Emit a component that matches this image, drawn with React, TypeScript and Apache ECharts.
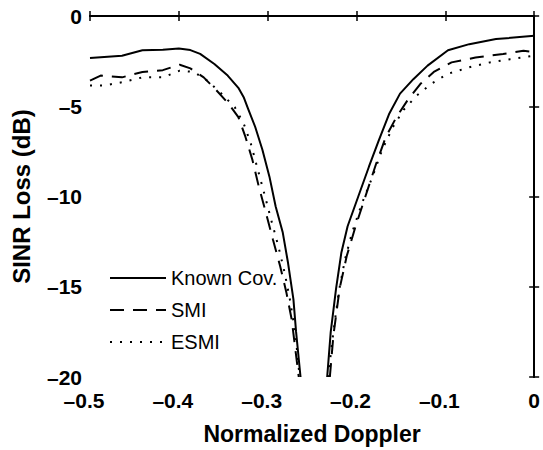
import React, { useEffect, useRef } from "react";
import * as echarts from "echarts";

const knownX = [-0.5, -0.464, -0.441, -0.418, -0.4, -0.387, -0.376, -0.36, -0.345, -0.333, -0.327, -0.322, -0.314, -0.306, -0.298, -0.291, -0.283, -0.277, -0.271, -0.268, -0.263];
const knownY = [-2.33, -2.2, -1.9, -1.87, -1.8, -1.89, -2.1, -2.66, -3.3, -3.98, -4.5, -5.14, -6.15, -7.4, -8.9, -10.55, -12.0, -13.7, -15.7, -17.5, -20];
const knownX2 = [-0.233, -0.229, -0.223, -0.217, -0.21, -0.198, -0.186, -0.175, -0.163, -0.151, -0.136, -0.12, -0.097, -0.073, -0.043, 0];
const knownY2 = [-20, -17.5, -15.1, -13.1, -11.65, -10, -8.35, -6.9, -5.4, -4.3, -3.5, -2.75, -1.9, -1.56, -1.28, -1.1];

const smiX = [-0.5, -0.488, -0.464, -0.441, -0.418, -0.399, -0.387, -0.372, -0.358, -0.344, -0.333, -0.325, -0.317, -0.31, -0.302, -0.294, -0.286, -0.279, -0.273, -0.269, -0.265];
const smiY = [-3.58, -3.3, -3.4, -3.1, -3.0, -2.7, -2.9, -3.4, -4.1, -4.86, -5.6, -6.7, -8.0, -9.45, -10.9, -12.4, -13.85, -15.3, -16.8, -18.4, -20];
const smiX2 = [-0.23, -0.226, -0.219, -0.211, -0.201, -0.19, -0.178, -0.167, -0.155, -0.143, -0.128, -0.113, -0.093, -0.066, -0.035, -0.012, 0];
const smiY2 = [-20, -17.7, -15.1, -13.3, -11.65, -10, -8.2, -6.7, -5.6, -4.7, -3.76, -3.1, -2.57, -2.3, -2.1, -1.93, -2.0];

const esmiX = [-0.5, -0.484, -0.464, -0.441, -0.418, -0.399, -0.383, -0.368, -0.352, -0.337, -0.327, -0.319, -0.312, -0.304, -0.296, -0.288, -0.281, -0.275, -0.269, -0.264];
const esmiY = [-3.85, -3.85, -3.67, -3.4, -3.4, -3.03, -3.1, -3.58, -4.3, -5.05, -5.96, -7.06, -8.35, -9.8, -11.3, -12.75, -14.2, -15.7, -17.5, -20];
const esmiX2 = [-0.232, -0.226, -0.22, -0.213, -0.205, -0.194, -0.182, -0.171, -0.159, -0.147, -0.132, -0.116, -0.097, -0.073, -0.05, -0.027, 0];
const esmiY2 = [-20, -17.5, -15.3, -13.5, -12.0, -10.4, -8.9, -7.4, -6.15, -5.2, -4.4, -3.76, -3.2, -2.84, -2.57, -2.39, -2.2];

const seriesNames = ["Known Cov.", "SMI", "ESMI"];
const xTicks = [-0.5, -0.4, -0.3, -0.2, -0.1, 0];
const yTicks = [-20, -15, -10, -5, 0];

function join(xa: number[], ya: number[], xb: number[], yb: number[]) {
  const out: any[] = xa.map((x, i) => [x, ya[i]]);
  out.push([-0.248, null]);
  xb.forEach((x, i) => out.push([x, yb[i]]));
  return out;
}

const fmt = (v: number) => String(v).replace("-", "\u2013");

export default function App() {
  const ref = useRef<HTMLDivElement>(null);
  useEffect(() => {
    document.body.style.margin = "0";
    const chart = echarts.init(ref.current!, undefined, { renderer: "svg" });
    const font = "'Liberation Sans', Arial, Helvetica, sans-serif";
    const tickFont = { color: "#000", fontFamily: font, fontSize: 21, fontWeight: "bold" as const };
    const axisCommon = {
      axisLine: { show: true, lineStyle: { color: "#000", width: 2 } },
      axisTick: { show: true, inside: true, length: 5, lineStyle: { color: "#000", width: 1.5 } },
      splitLine: { show: false },
    };
    chart.setOption({
      animation: false,
      backgroundColor: "#fff",
      grid: { left: 90, right: 7, top: 16, bottom: 72, containLabel: false },
      legend: {
        left: 104,
        top: 263,
        orient: "vertical",
        itemWidth: 56,
        itemHeight: 25,
        itemGap: 12,
        itemStyle: { opacity: 0 },
        textStyle: { fontFamily: font, fontSize: 20, color: "#000" },
        data: seriesNames,
      },
      xAxis: [
        {
          type: "value",
          min: xTicks[0],
          max: xTicks[xTicks.length - 1],
          interval: 0.1,
          name: "Normalized Doppler",
          nameLocation: "middle",
          nameGap: 45,
          nameTextStyle: { fontFamily: font, fontSize: 23, fontWeight: "bold", color: "#000" },
          axisLabel: {
            ...tickFont,
            margin: 13,
            formatter: (v: number) => {
              const r = Math.round(v * 10) / 10;
              return r < 0 ? "{neg|" + fmt(r) + "}" : "{pos|" + fmt(r) + "}";
            },
            rich: {
              neg: { ...tickFont, padding: [0, 12, 0, 0] },
              pos: { ...tickFont },
            },
          },
          ...axisCommon,
        },
        {
          type: "value",
          position: "top",
          min: xTicks[0],
          max: xTicks[xTicks.length - 1],
          interval: 0.1,
          axisLabel: { show: false },
          ...axisCommon,
        },
      ],
      yAxis: [
        {
          type: "value",
          min: yTicks[0],
          max: yTicks[yTicks.length - 1],
          interval: 5,
          name: "SINR Loss (dB)",
          nameLocation: "middle",
          nameGap: 57,
          nameTextStyle: { fontFamily: font, fontSize: 24, fontWeight: "bold", color: "#000" },
          axisLabel: {
            ...tickFont,
            margin: 8,
            formatter: (v: number) => fmt(v),
          },
          ...axisCommon,
        },
        {
          type: "value",
          position: "right",
          min: yTicks[0],
          max: yTicks[yTicks.length - 1],
          interval: 5,
          axisLabel: { show: false },
          ...axisCommon,
        },
      ],
      series: [
        {
          name: seriesNames[0],
          type: "line",
          data: join(knownX, knownY, knownX2, knownY2),
          symbol: "none",
          connectNulls: false,
          lineStyle: { color: "#000", width: 2, type: "solid" },
          itemStyle: { color: "#000" },
        },
        {
          name: seriesNames[1],
          type: "line",
          data: join(smiX, smiY, smiX2, smiY2),
          symbol: "none",
          connectNulls: false,
          lineStyle: { color: "#000", width: 2, type: [14, 9] },
          itemStyle: { color: "#000" },
        },
        {
          name: seriesNames[2],
          type: "line",
          data: join(esmiX, esmiY, esmiX2, esmiY2),
          symbol: "none",
          connectNulls: false,
          lineStyle: { color: "#000", width: 2, type: [2, 8] },
          itemStyle: { color: "#000" },
        },
      ],
    });
    return () => chart.dispose();
  }, []);
  return <div ref={ref} style={{ width: 543, height: 450 }} />;
}
